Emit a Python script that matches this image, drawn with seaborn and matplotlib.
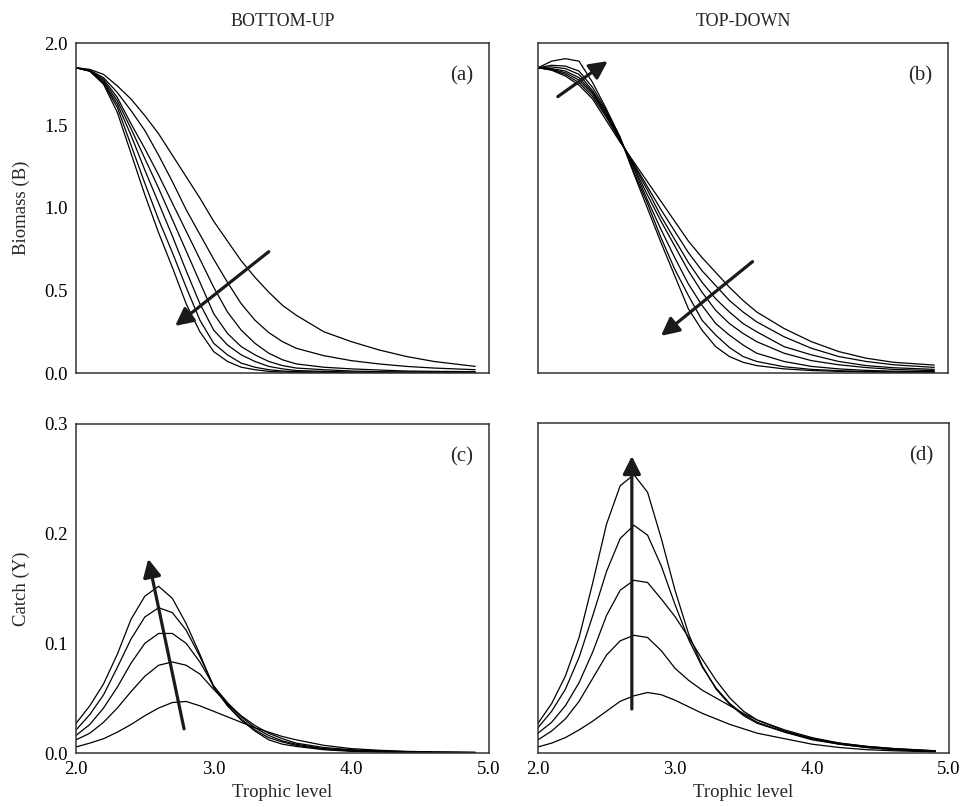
import numpy as np
import pandas as pd
import matplotlib
matplotlib.use("Agg")
import matplotlib.pyplot as plt
import seaborn as sns

sns.set_theme(style="white")
plt.rcParams['font.family'] = ['Liberation Serif', 'DejaVu Serif']

# trophic level grid shared by all curves
tl = [2.0, 2.1, 2.2, 2.3, 2.4, 2.5, 2.6, 2.7, 2.8, 2.9, 3.0, 3.1, 3.2, 3.3, 3.4, 3.5, 3.6,
      3.8, 4.0, 4.2, 4.4, 4.6, 4.9]

# (a) biomass, bottom-up
bio_bu = [
    [1.85, 1.83, 1.75, 1.58, 1.33, 1.08, 0.85, 0.64, 0.42, 0.25, 0.13, 0.07, 0.035, 0.02, 0.01, 0.006, 0.004, 0.003, 0.002, 0.002, 0.002, 0.002, 0.002],
    [1.85, 1.83, 1.755, 1.61, 1.38, 1.15, 0.93, 0.73, 0.52, 0.32, 0.18, 0.11, 0.06, 0.035, 0.02, 0.012, 0.008, 0.005, 0.003, 0.003, 0.003, 0.003, 0.003],
    [1.85, 1.83, 1.76, 1.63, 1.44, 1.23, 1.03, 0.83, 0.62, 0.42, 0.26, 0.17, 0.11, 0.07, 0.04, 0.025, 0.015, 0.01, 0.006, 0.004, 0.003, 0.003, 0.003],
    [1.85, 1.83, 1.77, 1.65, 1.48, 1.30, 1.12, 0.93, 0.74, 0.55, 0.36, 0.24, 0.16, 0.11, 0.07, 0.045, 0.03, 0.02, 0.012, 0.008, 0.006, 0.005, 0.004],
    [1.85, 1.832, 1.78, 1.67, 1.51, 1.36, 1.20, 1.03, 0.86, 0.69, 0.52, 0.37, 0.26, 0.18, 0.12, 0.08, 0.055, 0.035, 0.025, 0.018, 0.012, 0.01, 0.008],
    [1.85, 1.835, 1.79, 1.70, 1.59, 1.47, 1.32, 1.16, 0.99, 0.84, 0.69, 0.55, 0.42, 0.32, 0.245, 0.19, 0.15, 0.105, 0.075, 0.055, 0.04, 0.03, 0.02],
    [1.85, 1.84, 1.81, 1.74, 1.66, 1.56, 1.45, 1.32, 1.19, 1.06, 0.92, 0.80, 0.68, 0.58, 0.49, 0.41, 0.35, 0.25, 0.19, 0.14, 0.10, 0.07, 0.04],
]

# (b) biomass, top-down
bio_td = [
    [1.85, 1.89, 1.905, 1.89, 1.76, 1.60, 1.43, 1.21, 1.00, 0.79, 0.59, 0.39, 0.26, 0.16, 0.10, 0.065, 0.045, 0.025, 0.015, 0.01, 0.007, 0.005, 0.003],
    [1.85, 1.865, 1.86, 1.83, 1.73, 1.59, 1.43, 1.22, 1.03, 0.82, 0.63, 0.47, 0.32, 0.23, 0.155, 0.10, 0.07, 0.038, 0.022, 0.014, 0.009, 0.006, 0.004],
    [1.85, 1.855, 1.845, 1.81, 1.71, 1.58, 1.42, 1.24, 1.05, 0.87, 0.70, 0.54, 0.41, 0.30, 0.23, 0.17, 0.12, 0.07, 0.04, 0.025, 0.016, 0.011, 0.008],
    [1.85, 1.845, 1.83, 1.79, 1.70, 1.57, 1.42, 1.25, 1.08, 0.92, 0.77, 0.62, 0.49, 0.38, 0.30, 0.24, 0.19, 0.12, 0.075, 0.05, 0.033, 0.022, 0.014],
    [1.85, 1.84, 1.82, 1.775, 1.69, 1.56, 1.41, 1.26, 1.11, 0.95, 0.81, 0.67, 0.55, 0.45, 0.37, 0.30, 0.25, 0.16, 0.11, 0.07, 0.045, 0.032, 0.022],
    [1.85, 1.838, 1.81, 1.76, 1.675, 1.55, 1.41, 1.27, 1.13, 0.99, 0.86, 0.73, 0.62, 0.53, 0.44, 0.37, 0.31, 0.22, 0.15, 0.10, 0.07, 0.05, 0.034],
    [1.85, 1.835, 1.80, 1.745, 1.66, 1.53, 1.40, 1.28, 1.16, 1.04, 0.92, 0.80, 0.70, 0.61, 0.52, 0.44, 0.37, 0.27, 0.19, 0.13, 0.09, 0.065, 0.048],
]

# (c) catch, bottom-up
catch_bu = [
    [0.0055, 0.009, 0.013, 0.019, 0.026, 0.034, 0.041, 0.046, 0.047, 0.043, 0.038, 0.033, 0.028, 0.023, 0.019, 0.015, 0.012, 0.007, 0.004, 0.0025, 0.0015, 0.001, 0.0006],
    [0.012, 0.018, 0.028, 0.041, 0.056, 0.070, 0.080, 0.083, 0.080, 0.072, 0.058, 0.045, 0.034, 0.025, 0.018, 0.013, 0.009, 0.005, 0.003, 0.002, 0.0012, 0.0008, 0.0005],
    [0.016, 0.026, 0.041, 0.060, 0.082, 0.100, 0.109, 0.109, 0.100, 0.083, 0.061, 0.046, 0.033, 0.023, 0.016, 0.011, 0.008, 0.004, 0.0025, 0.0015, 0.001, 0.0006, 0.0004],
    [0.021, 0.035, 0.053, 0.078, 0.104, 0.124, 0.1325, 0.128, 0.112, 0.088, 0.061, 0.044, 0.031, 0.021, 0.014, 0.010, 0.007, 0.0035, 0.002, 0.0012, 0.0008, 0.0005, 0.0003],
    [0.027, 0.043, 0.063, 0.090, 0.122, 0.143, 0.152, 0.141, 0.118, 0.090, 0.060, 0.043, 0.030, 0.020, 0.012, 0.008, 0.006, 0.003, 0.0015, 0.001, 0.0006, 0.0004, 0.0002],
]

# (d) catch, top-down
catch_td = [
    [0.0055, 0.009, 0.014, 0.021, 0.029, 0.038, 0.047, 0.052, 0.055, 0.053, 0.048, 0.042, 0.036, 0.031, 0.026, 0.022, 0.018, 0.013, 0.008, 0.005, 0.003, 0.002, 0.001],
    [0.012, 0.020, 0.031, 0.047, 0.068, 0.089, 0.102, 0.107, 0.105, 0.093, 0.077, 0.066, 0.057, 0.050, 0.043, 0.036, 0.030, 0.021, 0.014, 0.009, 0.006, 0.004, 0.002],
    [0.018, 0.028, 0.043, 0.064, 0.092, 0.125, 0.148, 0.157, 0.155, 0.140, 0.124, 0.105, 0.085, 0.066, 0.050, 0.038, 0.030, 0.020, 0.013, 0.009, 0.006, 0.004, 0.002],
    [0.023, 0.038, 0.058, 0.087, 0.125, 0.165, 0.195, 0.207, 0.198, 0.170, 0.135, 0.103, 0.078, 0.059, 0.045, 0.035, 0.028, 0.019, 0.013, 0.008, 0.005, 0.003, 0.0015],
    [0.027, 0.045, 0.070, 0.105, 0.155, 0.208, 0.243, 0.253, 0.237, 0.195, 0.148, 0.108, 0.079, 0.058, 0.044, 0.034, 0.027, 0.019, 0.012, 0.008, 0.005, 0.003, 0.0015],
]

# arrows: (tail x, tail y, head x, head y)
arrows_a = [(3.40, 0.735, 2.72, 0.285)]
arrows_b = [(2.145, 1.675, 2.51, 1.89), (3.57, 0.675, 2.90, 0.225)]
arrows_c = [(2.785, 0.022, 2.525, 0.177)]
arrows_d = [(2.685, 0.040, 2.685, 0.270)]

col_titles = ["BOTTOM-UP", "TOP-DOWN"]
panel_tags = ["(a)", "(b)", "(c)", "(d)"]


def to_long(curves):
    rows = []
    for k, ys in enumerate(curves):
        for x, y in zip(tl, ys):
            rows.append((k, x, y))
    return pd.DataFrame(rows, columns=["curve", "tl", "val"])


W, H = 963, 807
fig = plt.figure(figsize=(W / 100, H / 100), dpi=100)


def add_ax(l, r, t, b):
    return fig.add_axes([l / W, 1 - b / H, (r - l) / W, (b - t) / H])


ax_a = add_ax(76, 489, 43, 373)
ax_b = add_ax(538, 948, 43, 373)
ax_c = add_ax(76, 489, 424, 753)
ax_d = add_ax(538, 949, 423, 753)

panels = [(ax_a, bio_bu, arrows_a), (ax_b, bio_td, arrows_b),
          (ax_c, catch_bu, arrows_c), (ax_d, catch_td, arrows_d)]

fs = 13.5
for i, (ax, curves, arrs) in enumerate(panels):
    df = to_long(curves)
    sns.lineplot(data=df, x="tl", y="val", units="curve", estimator=None,
                 color="black", lw=0.9, ax=ax, legend=False)
    for (x0, y0, x1, y1) in arrs:
        ax.annotate("", xy=(x1, y1), xytext=(x0, y0),
                    arrowprops=dict(arrowstyle="-|>,head_length=0.9,head_width=0.45",
                                    color="#1a1a1a", lw=2.3, shrinkA=0, shrinkB=0))
    ax.set_xlim(2.0, 5.0)
    ax.set_xticks([2.0, 3.0, 4.0, 5.0])
    ax.set_xlabel("")
    ax.set_ylabel("")
    for sp in ax.spines.values():
        sp.set_color("#333333")
        sp.set_linewidth(1.1)
    ax.tick_params(length=0, labelsize=fs, colors="black", pad=6)
    ax.text(0.962, 0.90, panel_tags[i], transform=ax.transAxes, ha="right",
            va="center", fontsize=fs + 1.5)

for ax in (ax_a, ax_b):
    ax.set_ylim(0, 2.0)
    ax.set_yticks([0.0, 0.5, 1.0, 1.5, 2.0])
    ax.set_xticklabels([])
for ax in (ax_c, ax_d):
    ax.set_ylim(0, 0.3)
    ax.set_yticks([0.0, 0.1, 0.2, 0.3])
    ax.set_xticklabels(["2.0", "3.0", "4.0", "5.0"])
    ax.set_xlabel("Trophic level", fontsize=fs, labelpad=4)
ax_a.set_yticklabels(["0.0", "0.5", "1.0", "1.5", "2.0"])
ax_c.set_yticklabels(["0.0", "0.1", "0.2", "0.3"])
ax_b.set_yticklabels([])
ax_d.set_yticklabels([])

ax_a.set_ylabel("Biomass (B)", fontsize=fs, labelpad=10)
ax_c.set_ylabel("Catch (Y)", fontsize=fs, labelpad=10)
ax_a.set_title(col_titles[0], fontsize=fs - 0.5, pad=12)
ax_b.set_title(col_titles[1], fontsize=fs - 0.5, pad=12)

fig.savefig("out.png", dpi=100, facecolor="white")
